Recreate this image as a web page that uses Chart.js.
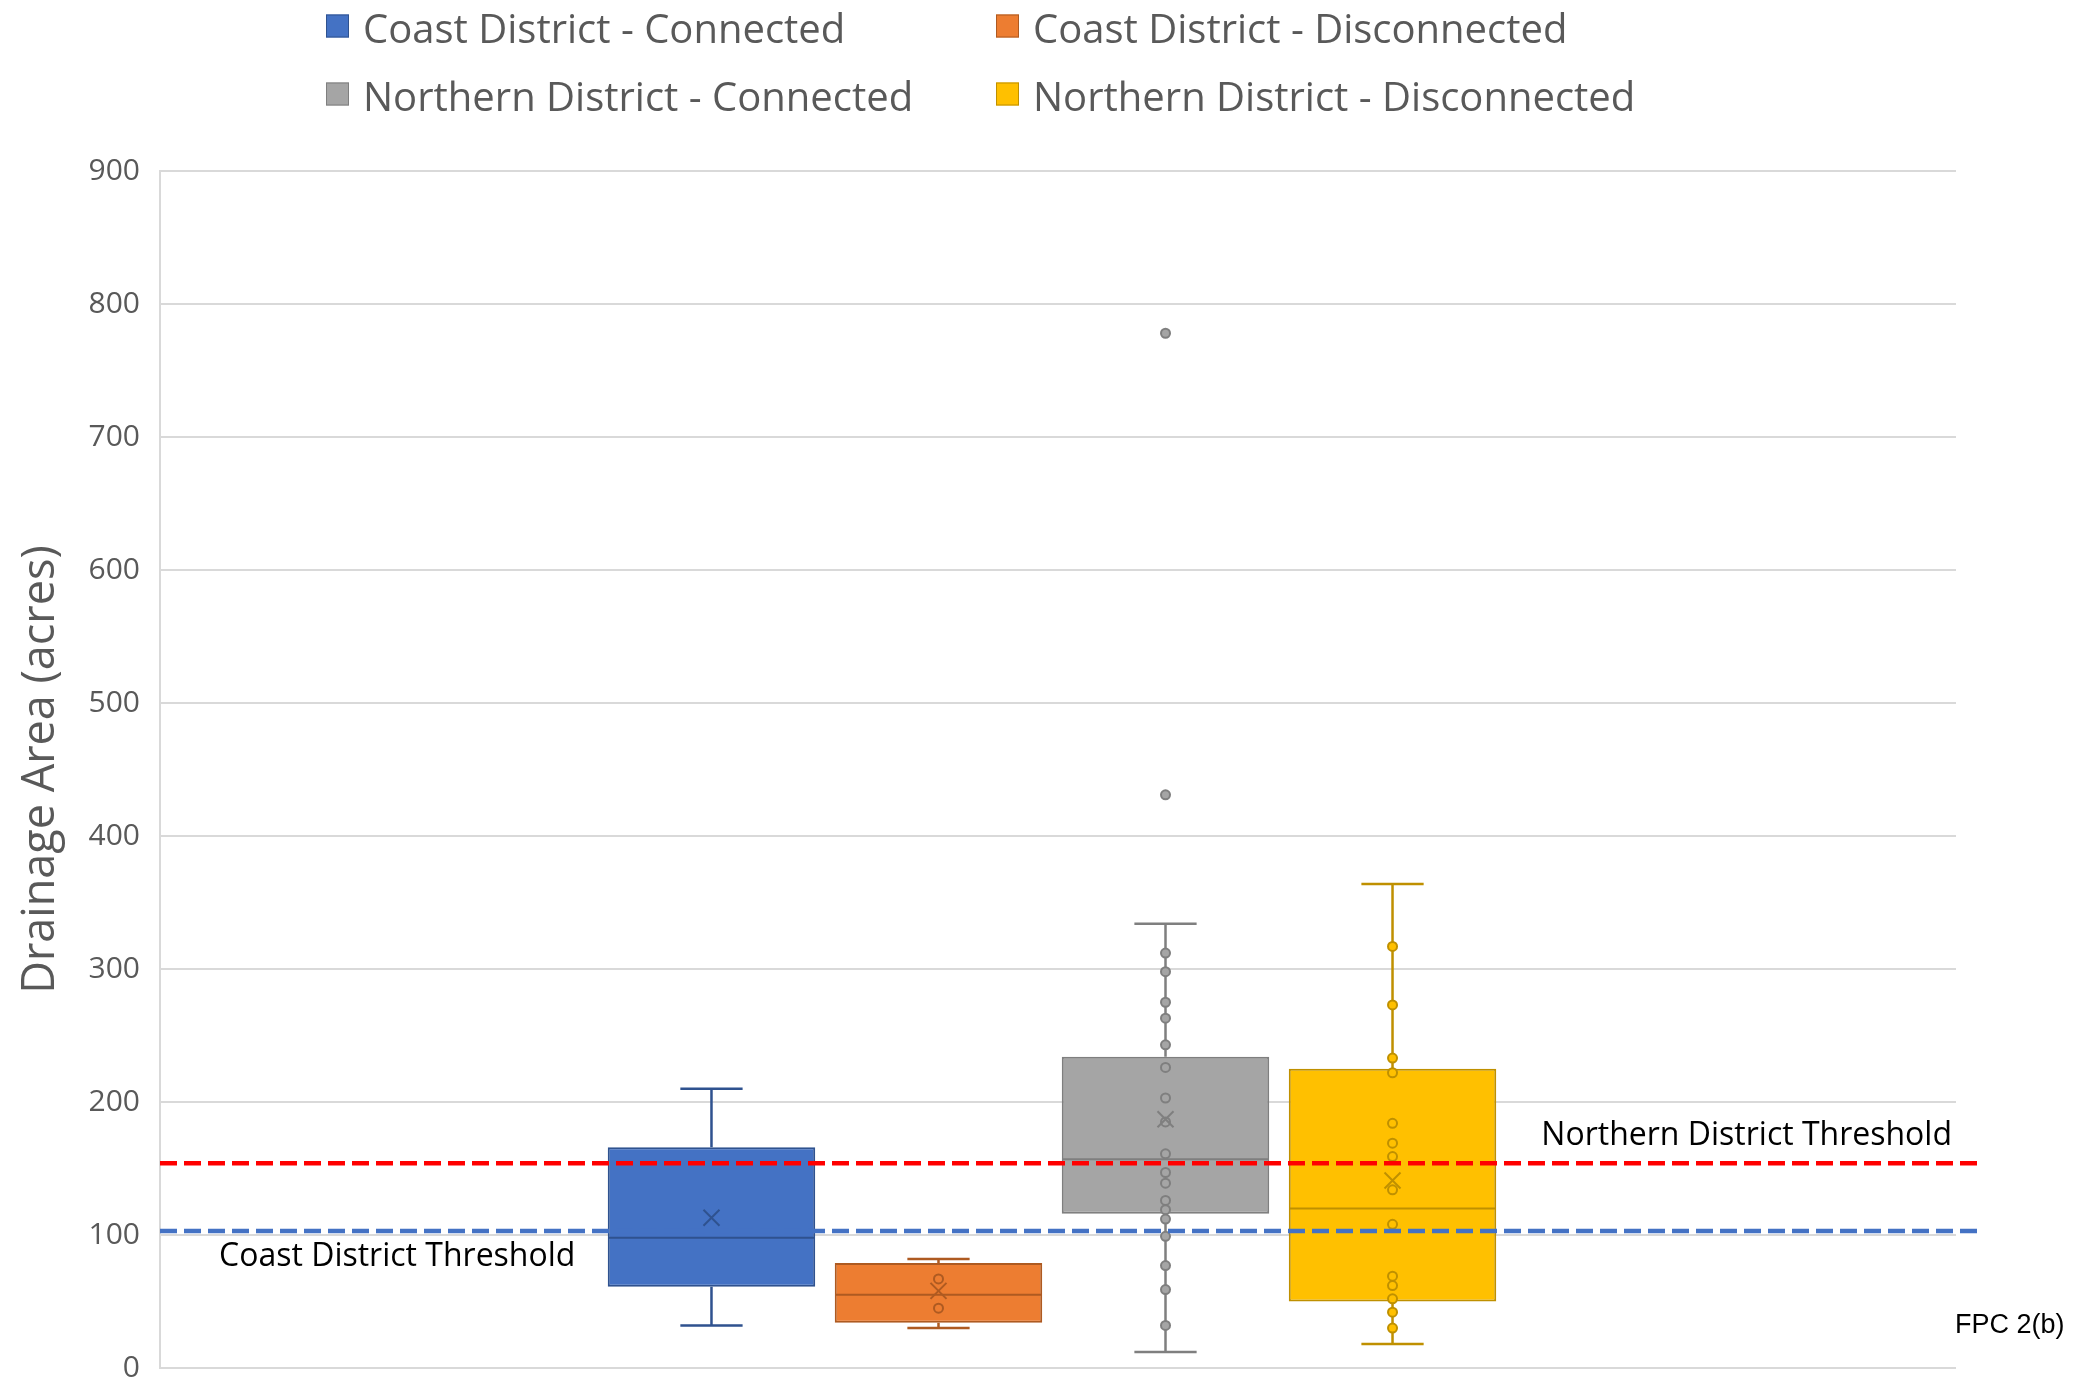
<!DOCTYPE html>
<html>
<head>
<meta charset="utf-8">
<script src="https://cdn.jsdelivr.net/npm/chart.js@4.4.1/dist/chart.umd.min.js"></script>
<style>
  body { margin: 0; background: #fff; }
  canvas { display: block; }
</style>
</head>
<body>
<canvas id="boxChart" width="2075" height="1383"></canvas>
<script>
// series (one box per series, Excel-style box & whisker)
const seriesNames = [
    'Coast District - Connected',
    'Coast District - Disconnected',
    'Northern District - Connected',
    'Northern District - Disconnected'
];
const whiskerLow = [32, 30, 12, 18];
const q1Values = [61, 34, 116, 50];
const medianValues = [98, 55, 157, 120];
const q3Values = [166, 79, 234, 225];
const whiskerHigh = [210, 82, 334, 364];
const meanValues = [113, 58, 187, 141];

// individual points shown inside the whiskers
const blueInner = [];
const orangeInner = [67, 45];
const grayInner = [312, 298, 275, 263, 243, 226, 203, 185, 161, 147, 139, 126, 119, 112, 99, 77, 59, 32];
const yellowInner = [317, 273, 233, 222, 184, 169, 159, 134, 108, 69, 62, 52, 42, 30];
const innerPoints = [blueInner, orangeInner, grayInner, yellowInner];

// outliers
const outliers = [[], [], [778, 431], []];

// thresholds
const coastThreshold = 103;
const northernThreshold = 154;

// y axis
const yMin = 0;
const yMax = 900;
const yStep = 100;

const fillColors = ['#4472C4', '#ED7D31', '#A5A5A5', '#FFC000'];
const lineColors = ['#2F528F', '#AE5A21', '#7F7F7F', '#BF9000'];

// vẽ râu, trung vị, trung bình, điểm và đường ngưỡng
const boxDetails = {
    id: 'boxDetails',
    afterLayout(chart) {
        // nhóm hộp hơi lệch trái so với tâm vùng vẽ
        chart.scales.x._startPixel -= 6;
    },
    afterDatasetsDraw(chart) {
        const { ctx, chartArea } = chart;
        const y = chart.scales.y;
        ctx.save();

        seriesNames.forEach((name, i) => {
            const bar = chart.getDatasetMeta(i).data[0];
            const cx = bar.x;
            const half = bar.width / 2;
            const cap = bar.width * 0.15;
            const col = lineColors[i];

            ctx.strokeStyle = col;
            ctx.lineWidth = 2.5;
            ctx.setLineDash([]);

            // whiskers
            ctx.beginPath();
            ctx.moveTo(cx, y.getPixelForValue(q3Values[i]));
            ctx.lineTo(cx, y.getPixelForValue(whiskerHigh[i]));
            ctx.moveTo(cx - cap, y.getPixelForValue(whiskerHigh[i]));
            ctx.lineTo(cx + cap, y.getPixelForValue(whiskerHigh[i]));
            ctx.moveTo(cx, y.getPixelForValue(q1Values[i]));
            ctx.lineTo(cx, y.getPixelForValue(whiskerLow[i]));
            ctx.moveTo(cx - cap, y.getPixelForValue(whiskerLow[i]));
            ctx.lineTo(cx + cap, y.getPixelForValue(whiskerLow[i]));
            ctx.stroke();

            // median
            ctx.lineWidth = 2;
            ctx.beginPath();
            ctx.moveTo(cx - half + 1, y.getPixelForValue(medianValues[i]));
            ctx.lineTo(cx + half - 1, y.getPixelForValue(medianValues[i]));
            ctx.stroke();

            // points
            innerPoints[i].concat(outliers[i]).forEach(v => {
                ctx.beginPath();
                ctx.arc(cx, y.getPixelForValue(v), 4.5, 0, Math.PI * 2);
                ctx.fillStyle = fillColors[i];
                ctx.fill();
                ctx.lineWidth = 2;
                ctx.stroke();
            });

            // mean marker
            const my = y.getPixelForValue(meanValues[i]);
            ctx.lineWidth = 2;
            ctx.beginPath();
            ctx.moveTo(cx - 8, my - 8);
            ctx.lineTo(cx + 8, my + 8);
            ctx.moveTo(cx + 8, my - 8);
            ctx.lineTo(cx - 8, my + 8);
            ctx.stroke();
        });

        // threshold lines
        ctx.lineWidth = 4.5;
        ctx.setLineDash([17, 7]);
        const thr = [[northernThreshold, '#FF0000'], [coastThreshold, '#4472C4']];
        thr.forEach(([v, c]) => {
            const py = y.getPixelForValue(v);
            ctx.strokeStyle = c;
            ctx.beginPath();
            ctx.moveTo(chartArea.left, py);
            ctx.lineTo(chartArea.right + 21, py);
            ctx.stroke();
        });
        ctx.setLineDash([]);

        ctx.fillStyle = '#000';
        ctx.font = '32px "Open Sans"';
        ctx.textBaseline = 'alphabetic';
        ctx.textAlign = 'right';
        ctx.fillText('Northern District Threshold', chartArea.right - 4, y.getPixelForValue(northernThreshold) - 18);
        ctx.textAlign = 'left';
        ctx.fillText('Coast District Threshold', chartArea.left + 59, y.getPixelForValue(coastThreshold) + 35);

        ctx.restore();
    },
    afterDraw(chart) {
        const { ctx } = chart;
        ctx.save();
        // legend 2x2
        const colX = [326, 996];
        const rowY = [26, 94];
        ctx.font = '40px "Open Sans"';
        ctx.textBaseline = 'alphabetic';
        ctx.textAlign = 'left';
        seriesNames.forEach((name, i) => {
            const x = colX[i % 2];
            const yc = rowY[Math.floor(i / 2)];
            ctx.fillStyle = fillColors[i];
            ctx.fillRect(x, yc - 11.5, 23, 23);
            ctx.strokeStyle = lineColors[i];
            ctx.lineWidth = 1;
            ctx.strokeRect(x + 0.5, yc - 11, 22, 22);
            ctx.fillStyle = '#595959';
            ctx.fillText(name, x + 37, yc + 17);
        });
        ctx.fillStyle = '#000';
        ctx.font = '27px "Liberation Sans"';
        ctx.fillText('FPC 2(b)', 1955, 1333);
        ctx.restore();
    }
};

window.onload = function () {
    new Chart(document.getElementById('boxChart'), {
        type: 'bar',
        data: {
            labels: ['All'],
            datasets: seriesNames.map((name, i) => ({
                label: name,
                data: [[q1Values[i], q3Values[i]]],
                backgroundColor: fillColors[i],
                borderColor: lineColors[i],
                borderWidth: 2,
                borderSkipped: false,
                categoryPercentage: 0.5056,
                barPercentage: 0.914
            }))
        },
        options: {
            responsive: false,
            animation: false,
            layout: { padding: { top: 171, right: 119, bottom: 15, left: 0 } },
            plugins: {
                legend: { display: false },
                tooltip: { enabled: false }
            },
            scales: {
                x: { display: false },
                y: {
                    min: yMin,
                    max: yMax,
                    ticks: {
                        stepSize: yStep,
                        padding: 0,
                        color: '#595959',
                        font: { family: 'Open Sans', size: 30, lineHeight: 1 }
                    },
                    grid: {
                        color: '#d9d9d9',
                        lineWidth: 2,
                        drawTicks: true,
                        tickLength: 20,
                        tickColor: 'rgba(0,0,0,0)'
                    },
                    border: { display: true, color: '#d9d9d9', width: 2 },
                    title: {
                        display: true,
                        text: 'Drainage Area (acres)',
                        color: '#595959',
                        font: { family: 'Open Sans', size: 45 },
                        padding: { top: 14, bottom: 0 }
                    },
                    afterFit: s => { s.width = 160; }
                }
            }
        },
        plugins: [boxDetails]
    });
};
</script>
</body>
</html>
